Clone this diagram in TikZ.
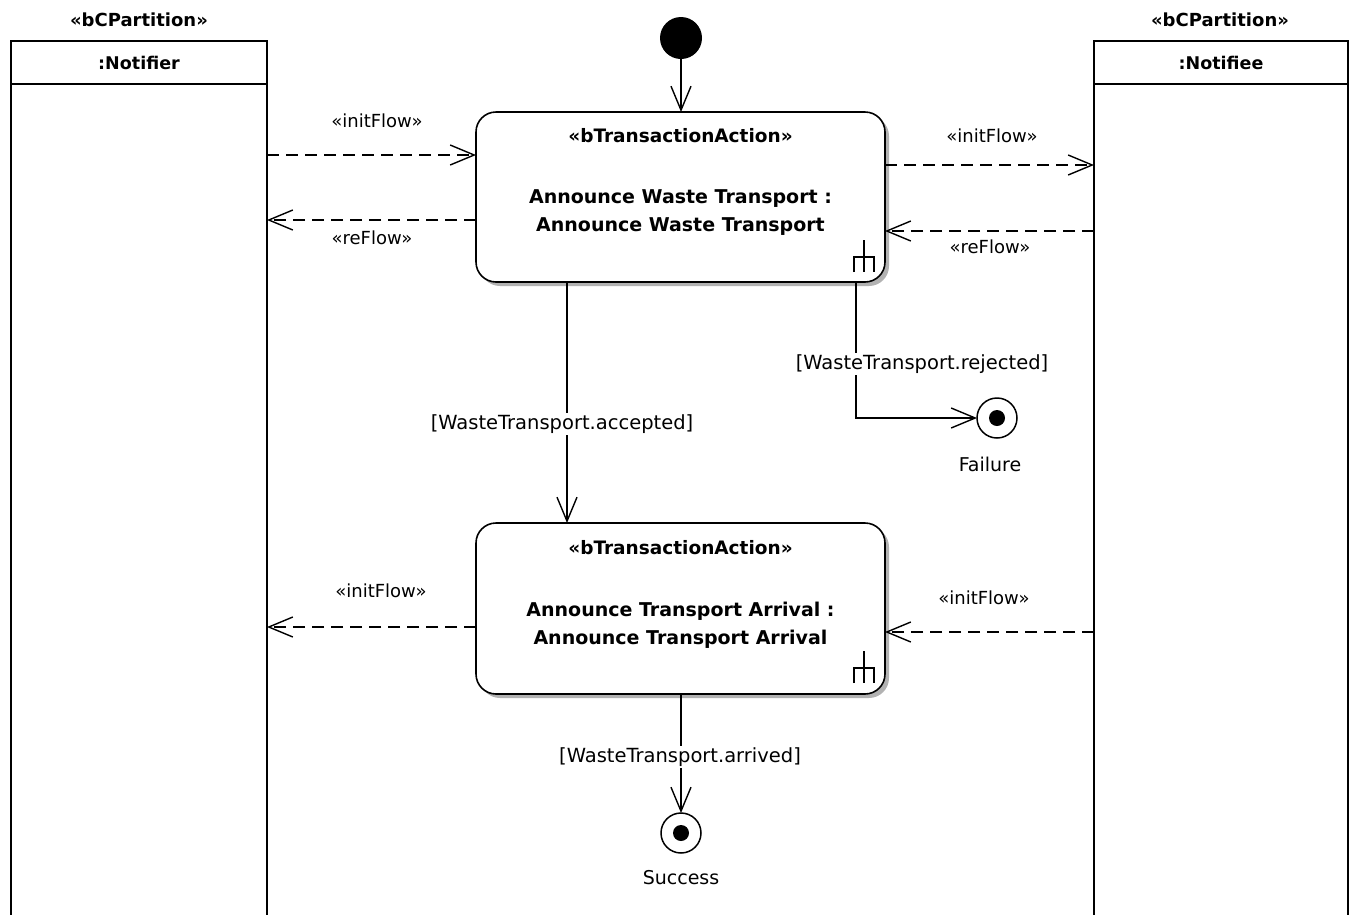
\documentclass[tikz,border=0pt]{standalone}
\usepackage{fontspec}
\setmainfont{DejaVu Sans}
\usetikzlibrary{arrows.meta,shadows,calc}

\tikzset{
  ln/.style={line width=1.5pt},
  tip/.style={-{Straight Barb[length=24pt,width=20pt,line width=1.4pt]}},
  flow/.style={ln, tip, dash pattern=on 12pt off 7pt},
  ctrl/.style={ln, tip},
  lanehead/.style={draw, line width=1.6pt, inner sep=0pt, outer sep=0pt, minimum height=43pt},
  lanebody/.style={draw, line width=1.6pt, inner sep=0pt, outer sep=0pt, minimum height=860pt},
  actionbox/.style={draw, line width=1.6pt, rounded corners=20pt, fill=white,
    minimum width=409pt, minimum height=170pt, inner sep=0pt, outer sep=0pt,
    drop shadow={shadow xshift=4pt, shadow yshift=-4pt, fill=black, opacity=0.3}},
  stereo/.style={font=\fontsize{18.5}{22}\selectfont\bfseries, inner sep=1pt},
  lanestereo/.style={font=\fontsize{18}{22}\selectfont\bfseries, inner sep=1pt},
  flowlbl/.style={font=\fontsize{18}{21}\selectfont, inner sep=1pt},
  actname/.style={font=\fontsize{19}{28}\selectfont\bfseries, align=center, inner sep=0pt},
  guard/.style={font=\fontsize{19.5}{22}\selectfont, fill=white, inner sep=2pt},
  endlbl/.style={font=\fontsize{19}{22}\selectfont, inner sep=1pt},
  finalring/.style={circle, draw, line width=1.5pt, minimum size=40pt, inner sep=0pt, outer sep=0pt, fill=white},
  finaldot/.style={circle, fill=black, minimum size=16pt, inner sep=0pt},
}

% the rake mark of a call-behaviour action
\newcommand{\rakeat}[1]{%
  \draw[line width=1.4pt] ($(#1)+(0,-17)$) -- ($(#1)+(0,15)$)
    ($(#1)+(-10,15)$) -- ($(#1)+(-10,0)$) -- ($(#1)+(10,0)$) -- ($(#1)+(10,15)$);}

\begin{document}
\begin{tikzpicture}[x=1pt, y=-1pt]
  \useasboundingbox (0,0) rectangle (1350,914);
  \clip (0,0) rectangle (1350,914);

  % swimlanes
  \node[lanehead, minimum width=256pt] (nh) at (139,62.5) {\fontsize{17.5}{20}\selectfont\bfseries :Notifier};
  \node[lanebody, minimum width=256pt, anchor=north] (nl) at (nh.south) {};
  \node[lanestereo] at (139,20) {«bCPartition»};

  \node[lanehead, minimum width=254pt] (eh) at (1221,62.5) {\fontsize{17.5}{20}\selectfont\bfseries :Notifiee};
  \node[lanebody, minimum width=254pt, anchor=north] (el) at (eh.south) {};
  \node[lanestereo] at (1220,20) {«bCPartition»};

  % initial node
  \node[circle, fill=black, minimum size=42pt, inner sep=0pt] (init) at (681,38) {};

  % actions
  \node[actionbox] (a1) at (680.5,197) {};
  \node[stereo] at (680.5,136) {«bTransactionAction»};
  \node[actname] at (680.5,213) {Announce Waste Transport :\\Announce Waste Transport};
  \coordinate (r1) at (864,257);
  \rakeat{r1}

  \node[actionbox, minimum height=171pt] (a2) at (680.5,608.5) {};
  \node[stereo] at (680.5,548) {«bTransactionAction»};
  \node[actname] at (680.5,625) {Announce Transport Arrival :\\Announce Transport Arrival};
  \coordinate (r2) at (864,668);
  \rakeat{r2}

  % final nodes
  \node[finalring] (fail) at (997,418) {};
  \node[finaldot] at (fail) {};
  \node[endlbl] at (990,464) {Failure};

  \node[finalring] (succ) at (681,833) {};
  \node[finaldot] at (succ) {};
  \node[endlbl] at (681,878) {Success};

  % anchor points on the action borders
  \coordinate (a1l1) at ([yshift=42pt]a1.west);
  \coordinate (a1l2) at ([yshift=-23pt]a1.west);
  \coordinate (a1r1) at ([yshift=32pt]a1.east);
  \coordinate (a1r2) at ([yshift=-34pt]a1.east);
  \coordinate (a2l) at ([yshift=-18.5pt]a2.west);
  \coordinate (a2r) at ([yshift=-23.5pt]a2.east);
  \coordinate (a1acc) at (a1.south -| 567,0);
  \coordinate (a1rej) at (a1.south -| 856,0);
  \coordinate (bend) at (856,418);

  % object flows
  \draw[flow] (nl.east |- a1l1) -- (a1l1);
  \node[flowlbl] at (377,121) {«initFlow»};
  \draw[flow] (a1l2) -- (nl.east |- a1l2);
  \node[flowlbl] at (372,238) {«reFlow»};
  \draw[flow] (a1r1) -- (el.west |- a1r1);
  \node[flowlbl] at (992,136) {«initFlow»};
  \draw[flow] (el.west |- a1r2) -- (a1r2);
  \node[flowlbl] at (990,247) {«reFlow»};
  \draw[flow] (a2l) -- (nl.east |- a2l);
  \node[flowlbl] at (381,591) {«initFlow»};
  \draw[flow] (el.west |- a2r) -- (a2r);
  \node[flowlbl] at (984,598) {«initFlow»};

  % control flows
  \draw[ctrl] (init) -- (a1.north -| init);
  \draw[ctrl] (a1acc) -- (a2.north -| a1acc);
  \node[guard] at (562,424) {[WasteTransport.accepted]};
  \draw[ctrl] (a1rej) -- (bend) -- (fail);
  \node[guard] at (922,364) {[WasteTransport.rejected]};
  \draw[ctrl] (a2.south -| succ) -- (succ);
  \node[guard] at (680,757) {[WasteTransport.arrived]};
\end{tikzpicture}
\end{document}
